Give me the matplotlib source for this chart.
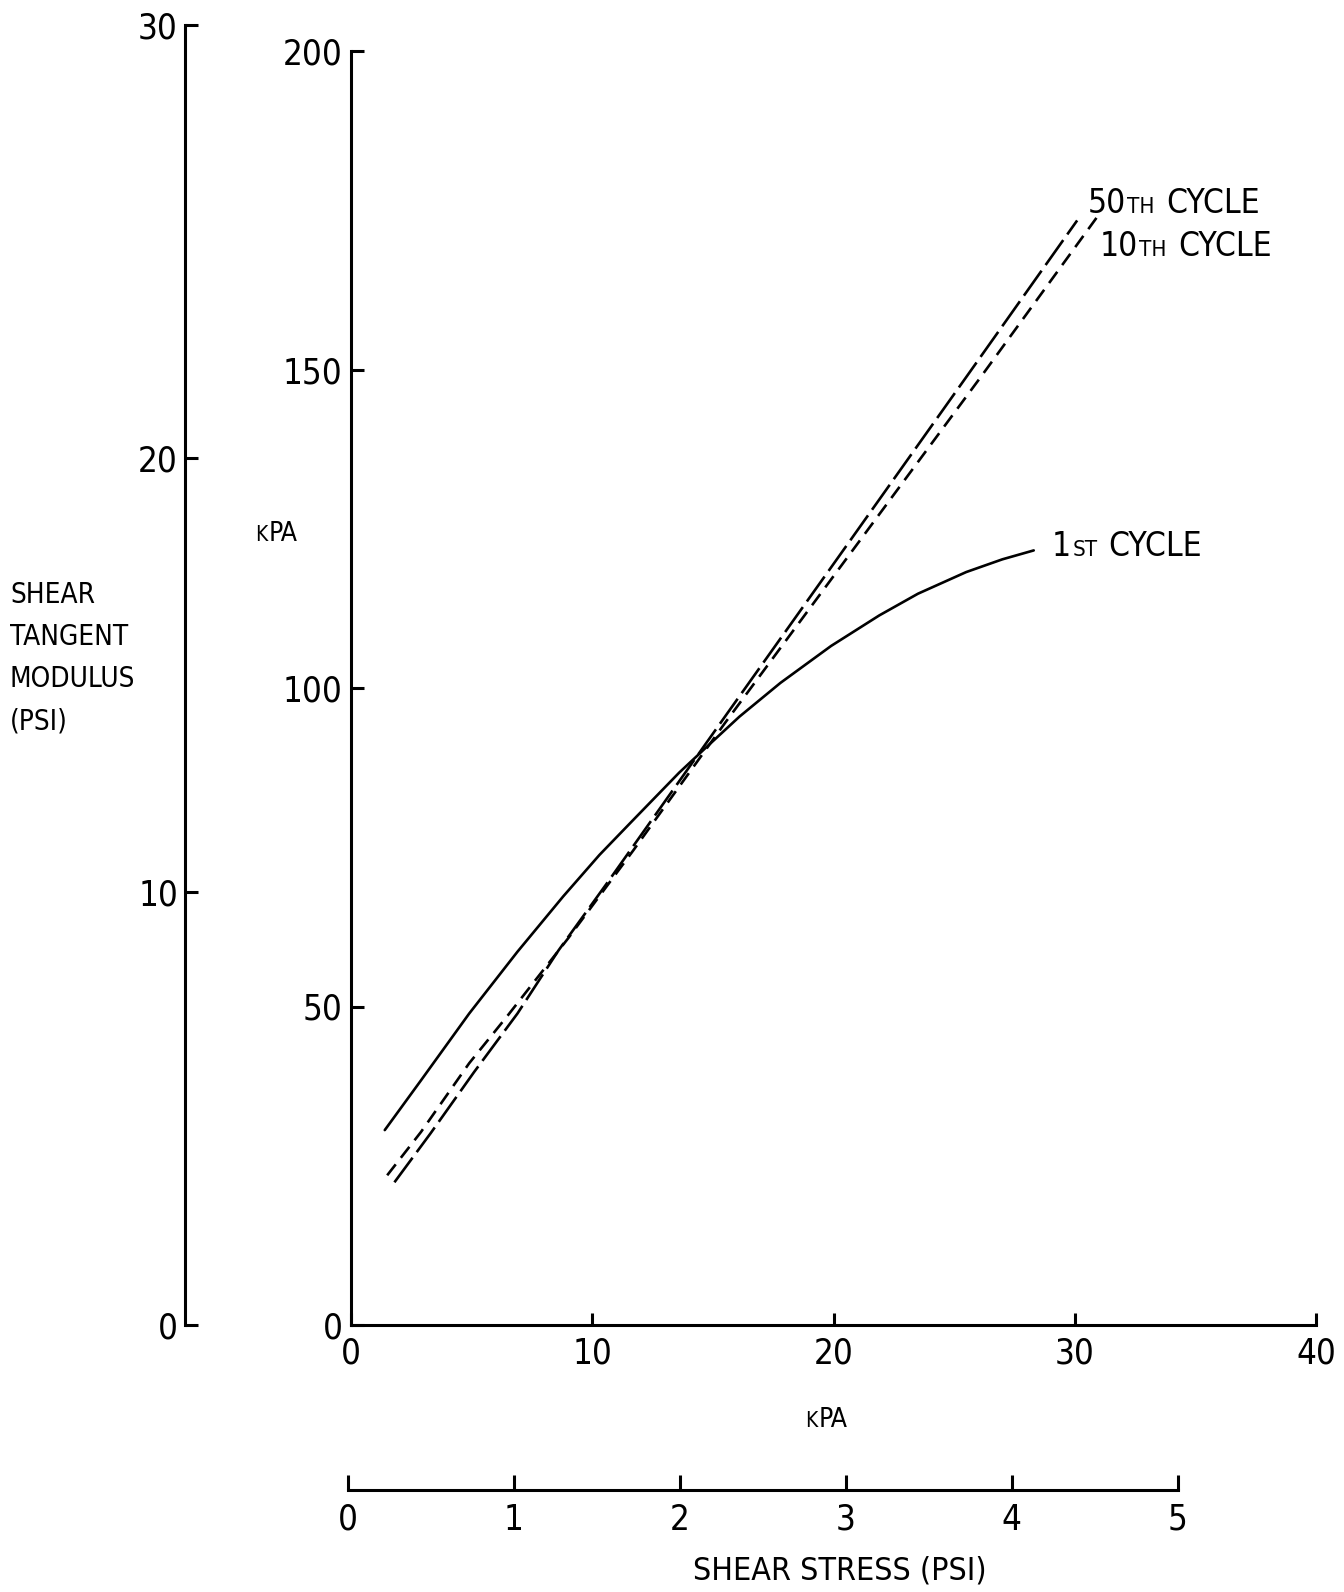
#!/usr/bin/env python3

import matplotlib
matplotlib.use("Agg")
import matplotlib.pyplot as plt

plt.rcParams['font.family'] = ['Liberation Sans Narrow', 'DejaVu Sans']
plt.rcParams['font.stretch'] = 'condensed'
plt.rcParams['lines.scale_dashes'] = False

# Shear tangent modulus (kPa) vs shear stress (kPa)
kpa_1st = [1.4, 2.9, 4.9, 6.9, 8.8, 10.3, 11.6, 13.6, 14.7, 16.1, 17.8, 19.9, 21.9, 23.5, 25.5, 27.0, 28.3]
mod_1st = [30.6, 38.4, 48.9, 58.6, 67.3, 73.8, 78.9, 86.7, 90.6, 95.5, 100.8, 106.6, 111.4, 114.8, 118.2, 120.2, 121.6]

kpa_10th = [1.5, 2.9, 4.9, 6.5, 9.0, 11.7, 15.5, 20.4, 26.1, 30.9]
mod_10th = [23.5, 30.3, 41.1, 48.6, 60.7, 74.5, 94.5, 119.6, 148.8, 173.8]

kpa_50th = [1.8, 3.3, 5.1, 6.9, 8.6, 10.6, 15.5, 20.1, 25.5, 30.1]
mod_50th = [22.4, 30.1, 39.7, 48.9, 58.8, 69.3, 95.5, 120.0, 148.8, 173.4]

kpa_ticks = [0, 10, 20, 30, 40]
mod_kpa_ticks = [0, 50, 100, 150, 200]
mod_psi_ticks = [0, 10, 20, 30]
stress_psi_ticks = [0, 1, 2, 3, 4, 5]

W, H = 1344, 1592
TICK_FS = 25
LW = 1.9
SPINE_LW = 2.2


def rect(x0, y0, x1, y1):
    # pixel box (top-left origin) -> figure fraction
    return [x0 / W, 1 - y1 / H, (x1 - x0) / W, (y1 - y0) / H]


def only_spine(ax, keep):
    for name, sp in ax.spines.items():
        sp.set_visible(name in keep)
        sp.set_linewidth(SPINE_LW)
    ax.patch.set_visible(False)


fig = plt.figure(figsize=(W / 100, H / 100), dpi=100)
renderer = fig.canvas.get_renderer()

# main axes in kPa
ax = fig.add_axes(rect(351, 51, 1316, 1325))
only_spine(ax, ('left', 'bottom'))
ax.set_xlim(0, 40)
ax.set_ylim(0, 200)
ax.set_xticks(kpa_ticks)
ax.set_yticks(mod_kpa_ticks)
ax.tick_params(direction='in', length=9, width=SPINE_LW, labelsize=TICK_FS)
ax.tick_params(axis='x', pad=8)
ax.tick_params(axis='y', pad=6)

ax.plot(kpa_1st, mod_1st, color='black', lw=LW, solid_capstyle='round',
        solid_joinstyle='round')
ax.plot(kpa_10th, mod_10th, color='black', lw=LW, dashes=(10, 6))
ax.plot(kpa_50th, mod_50th, color='black', lw=LW, dashes=(22, 5))

# left axis in PSI
ax_psi = fig.add_axes(rect(185, 25, 186, 1325))
only_spine(ax_psi, ('left',))
ax_psi.set_ylim(0, 30)
ax_psi.set_yticks(mod_psi_ticks)
ax_psi.set_xticks([])
ax_psi.tick_params(axis='y', direction='in', length=9, width=SPINE_LW, labelsize=TICK_FS, pad=5)

# bottom axis in PSI
ax_st = fig.add_axes(rect(348, 1489, 1177.5, 1490))
only_spine(ax_st, ('bottom',))
ax_st.set_xlim(0, 5)
ax_st.set_xticks(stress_psi_ticks)
ax_st.set_yticks([])
ax_st.tick_params(axis='x', direction='in', length=11, width=SPINE_LW, labelsize=TICK_FS, pad=9)


def small_caps(x, y, parts):
    # parts: (text, fontsize, gap in px); all pieces share a baseline at y
    xf = x / W
    for s, fs, gap in parts:
        xf += gap / W
        t = fig.text(xf, 1 - y / H, s, fontsize=fs, ha='left', va='baseline')
        xf = t.get_window_extent(renderer).x1 / W


small_caps(1088, 213, [("50", 24, 0), ("TH", 16, 1), ("CYCLE", 24, 11)])
small_caps(1100, 256, [("10", 24, 0), ("TH", 16, 1), ("CYCLE", 24, 11)])
small_caps(1052, 556, [("1", 24, 0), ("ST", 16, 1), ("CYCLE", 24, 11)])
small_caps(255, 541, [("K", 15, 0), ("PA", 19, 1)])
small_caps(805, 1427, [("K", 15, 0), ("PA", 19, 1)])

fig.text(840 / W, 1 - 1571 / H, "SHEAR STRESS (PSI)", fontsize=23,
         ha='center', va='center')
fig.text(10 / W, 1 - 658 / H, "SHEAR\nTANGENT\nMODULUS\n(PSI)", fontsize=20,
         ha='left', va='center', linespacing=1.65)

fig.savefig("out.png", dpi=100)
